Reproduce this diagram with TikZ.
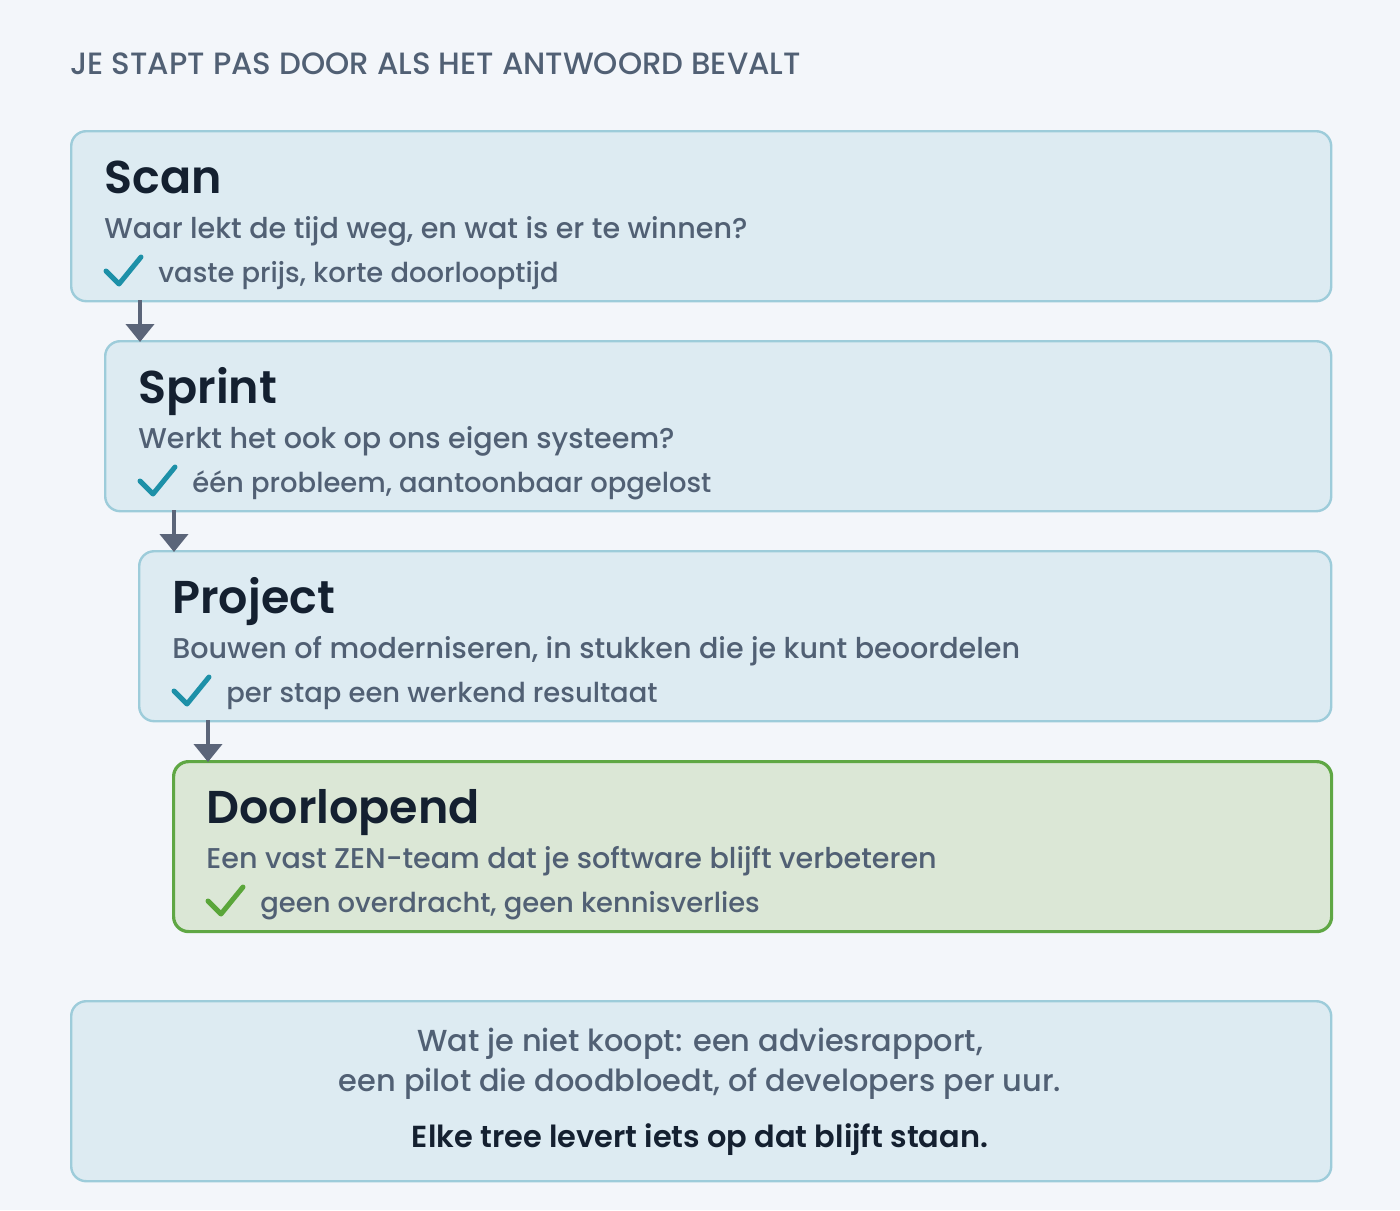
\documentclass[tikz,border=0pt]{standalone}
\usepackage{fontspec}
\setmainfont{Poppins}[UprightFont=* Medium,BoldFont=* SemiBold]
\usetikzlibrary{arrows.meta,calc}
\definecolor{bg}{HTML}{F3F6FA}
\definecolor{boxfill}{HTML}{DDEBF2}
\definecolor{boxline}{HTML}{9DCCDA}
\definecolor{gfill}{HTML}{DBE7D6}
\definecolor{gline}{HTML}{5FA744}
\definecolor{txt}{HTML}{516074}
\definecolor{ttl}{HTML}{142030}
\definecolor{teal}{HTML}{1D90A8}
\definecolor{gchk}{HTML}{5AA63A}
\definecolor{arrc}{HTML}{5B6579}
\begin{document}
\begin{tikzpicture}[x=0.5pt,y=-0.5pt,
  box/.style={draw=boxline,fill=boxfill,line width=1.2pt,rounded corners=7.5pt,anchor=north west,inner sep=0pt,minimum height=85pt},
  gbox/.style={box,draw=gline,fill=gfill,line width=1.6pt},
  ttltext/.style={anchor=base west,inner sep=0pt,text=ttl,font=\fontsize{23}{27}\selectfont\bfseries},
  subtext/.style={anchor=base west,inner sep=0pt,text=txt,font=\fontsize{14.3}{17}\selectfont},
  chktext/.style={anchor=base west,inner sep=0pt,text=txt,font=\fontsize{13.7}{17}\selectfont},
  bottext/.style={anchor=base,inner sep=0pt,text=txt,font=\fontsize{15.2}{18}\selectfont},
  arr/.style={draw=arrc,line width=2pt,-{Triangle[width=14pt,length=9pt]}},
  chk/.style={line width=2.5pt,line cap=round,line join=round}]
\fill[bg] (0,0) rectangle (1400,1210);
\useasboundingbox (0,0) rectangle (1400,1210);
\node[anchor=base west,inner sep=0pt,text=txt,font=\fontsize{15.4}{18}\selectfont] (hdr) at (70,74) {JE STAPT PAS DOOR ALS HET ANTWOORD BEVALT};
% boxes
\node[box,minimum width=630pt] (b1) at (70,130) {};
\node[box,minimum width=613pt] (b2) at (104,340) {};
\node[box,minimum width=596pt] (b3) at (138,550) {};
\node[gbox,minimum width=579pt] (b4) at (172,760) {};
\node[box,minimum width=630pt,minimum height=90pt] (b5) at (70,1000) {};
% arrows
\coordinate (a1) at (140,300);
\coordinate (a2) at (174,510);
\coordinate (a3) at (208,720);
\draw[arr] (a1) -- ([yshift=-1pt]a1 |- b2.north);
\draw[arr] (a2) -- ([yshift=-1pt]a2 |- b3.north);
\draw[arr] (a3) -- ([yshift=-1pt]a3 |- b4.north);
% Scan
\node[ttltext] (t1) at (104,193) {Scan};
\node[subtext] (s1) at (104,238) {Waar lekt de tijd weg, en wat is er te winnen?};
\draw[chk,teal] (106,271) -- (119,284) -- (141,257);
\node[chktext] (c1) at (158,282) {vaste prijs, korte doorlooptijd};
% Sprint
\node[ttltext] (t2) at (138,403) {Sprint};
\node[subtext] (s2) at (138,448) {Werkt het ook op ons eigen systeem?};
\draw[chk,teal] (140,481) -- (153,494) -- (175,467);
\node[chktext] (c2) at (192,492) {één probleem, aantoonbaar opgelost};
% Project
\node[ttltext] (t3) at (172,613) {Project};
\node[subtext] (s3) at (172,658) {Bouwen of moderniseren, in stukken die je kunt beoordelen};
\draw[chk,teal] (174,691) -- (187,704) -- (209,677);
\node[chktext] (c3) at (226,702) {per stap een werkend resultaat};
% Doorlopend
\node[ttltext] (t4) at (206,823) {Doorlopend};
\node[subtext] (s4) at (206,868) {Een vast ZEN-team dat je software blijft verbeteren};
\draw[chk,gchk] (208,901) -- (221,914) -- (243,887);
\node[chktext] (c4) at (260,912) {geen overdracht, geen kennisverlies};
% bottom
\node[bottext] (w1) at (700,1051) {Wat je niet koopt: een adviesrapport,};
\node[bottext] (w2) at (700,1091) {een pilot die doodbloedt, of developers per uur.};
\node[bottext,text=ttl,font=\fontsize{15.2}{18}\selectfont\bfseries] (w3) at (700,1147) {Elke tree levert iets op dat blijft staan.};
\end{tikzpicture}
\end{document}
